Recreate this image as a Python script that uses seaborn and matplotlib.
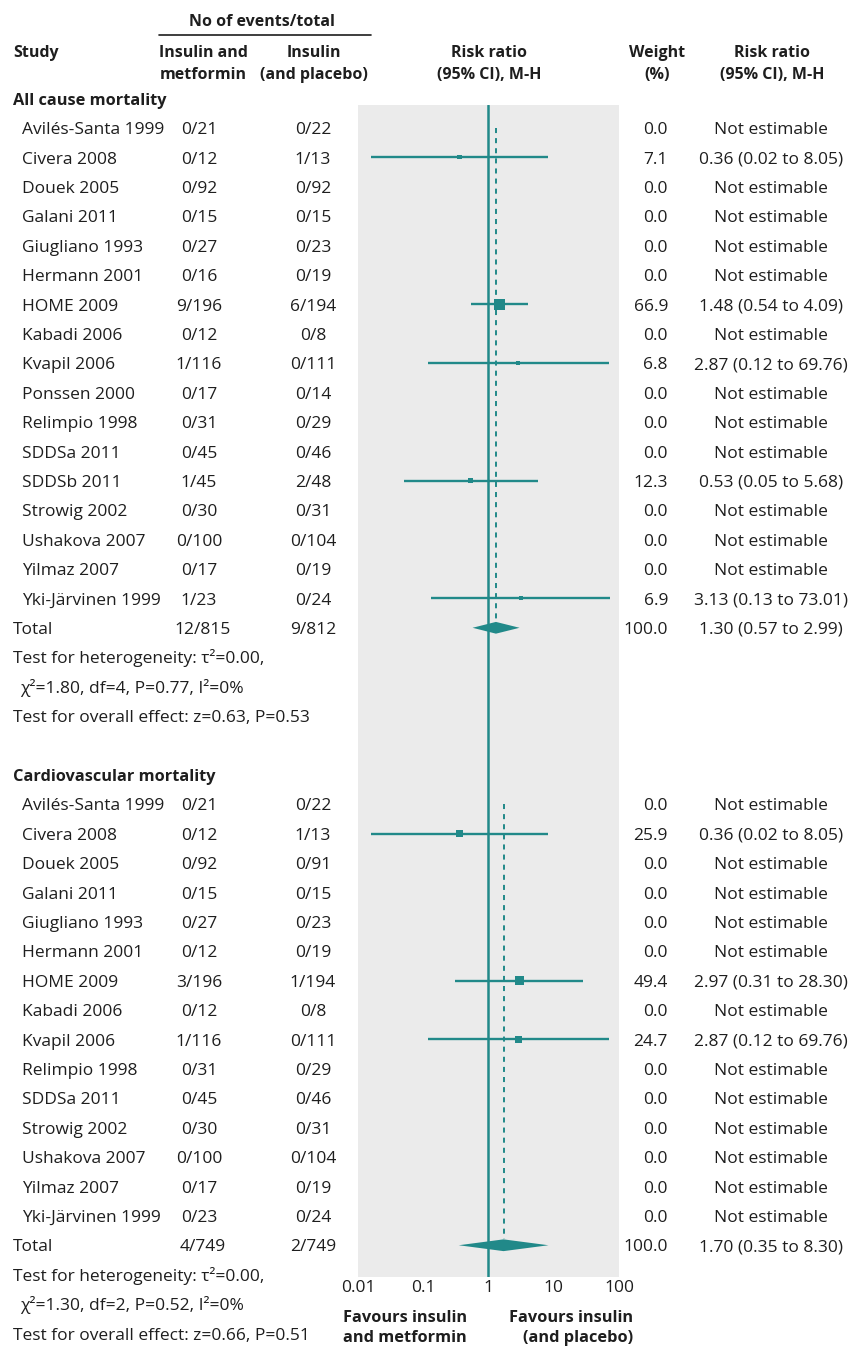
import numpy as np
import pandas as pd
import seaborn as sns
import matplotlib.pyplot as plt
from matplotlib.transforms import blended_transform_factory

# Mortalidad por cualquier causa
estudios_all = ['Avilés-Santa 1999', 'Civera 2008', 'Douek 2005', 'Galani 2011', 'Giugliano 1993',
                'Hermann 2001', 'HOME 2009', 'Kabadi 2006', 'Kvapil 2006', 'Ponssen 2000',
                'Relimpio 1998', 'SDDSa 2011', 'SDDSb 2011', 'Strowig 2002', 'Ushakova 2007',
                'Yilmaz 2007', 'Yki-Järvinen 1999']
met_all = ['0/21', '0/12', '0/92', '0/15', '0/27', '0/16', '9/196', '0/12', '1/116', '0/17',
           '0/31', '0/45', '1/45', '0/30', '0/100', '0/17', '1/23']
pla_all = ['0/22', '1/13', '0/92', '0/15', '0/23', '0/19', '6/194', '0/8', '0/111', '0/14',
           '0/29', '0/46', '2/48', '0/31', '0/104', '0/19', '0/24']
peso_all = [0.0, 7.1, 0.0, 0.0, 0.0, 0.0, 66.9, 0.0, 6.8, 0.0, 0.0, 0.0, 12.3, 0.0, 0.0, 0.0, 6.9]
rr_all = [np.nan, 0.36, np.nan, np.nan, np.nan, np.nan, 1.48, np.nan, 2.87, np.nan,
          np.nan, np.nan, 0.53, np.nan, np.nan, np.nan, 3.13]
inf_all = [np.nan, 0.016, np.nan, np.nan, np.nan, np.nan, 0.54, np.nan, 0.12, np.nan,
           np.nan, np.nan, 0.05, np.nan, np.nan, np.nan, 0.13]
sup_all = [np.nan, 8.05, np.nan, np.nan, np.nan, np.nan, 4.09, np.nan, 69.76, np.nan,
           np.nan, np.nan, 5.68, np.nan, np.nan, np.nan, 73.01]
total_all = ['12/815', '9/812']
pool_all = [1.30, 0.57, 2.99]
notas_all = ['Test for heterogeneity: τ²=0.00,',
             'χ²=1.80, df=4, P=0.77, I²=0%',
             'Test for overall effect: z=0.63, P=0.53']

# Mortalidad cardiovascular
estudios_cv = ['Avilés-Santa 1999', 'Civera 2008', 'Douek 2005', 'Galani 2011', 'Giugliano 1993',
               'Hermann 2001', 'HOME 2009', 'Kabadi 2006', 'Kvapil 2006', 'Relimpio 1998',
               'SDDSa 2011', 'Strowig 2002', 'Ushakova 2007', 'Yilmaz 2007', 'Yki-Järvinen 1999']
met_cv = ['0/21', '0/12', '0/92', '0/15', '0/27', '0/12', '3/196', '0/12', '1/116', '0/31',
          '0/45', '0/30', '0/100', '0/17', '0/23']
pla_cv = ['0/22', '1/13', '0/91', '0/15', '0/23', '0/19', '1/194', '0/8', '0/111', '0/29',
          '0/46', '0/31', '0/104', '0/19', '0/24']
peso_cv = [0.0, 25.9, 0.0, 0.0, 0.0, 0.0, 49.4, 0.0, 24.7, 0.0, 0.0, 0.0, 0.0, 0.0, 0.0]
rr_cv = [np.nan, 0.36, np.nan, np.nan, np.nan, np.nan, 2.97, np.nan, 2.87, np.nan,
         np.nan, np.nan, np.nan, np.nan, np.nan]
inf_cv = [np.nan, 0.016, np.nan, np.nan, np.nan, np.nan, 0.31, np.nan, 0.12, np.nan,
          np.nan, np.nan, np.nan, np.nan, np.nan]
sup_cv = [np.nan, 8.05, np.nan, np.nan, np.nan, np.nan, 28.30, np.nan, 69.76, np.nan,
          np.nan, np.nan, np.nan, np.nan, np.nan]
total_cv = ['4/749', '2/749']
pool_cv = [1.70, 0.35, 8.30]
notas_cv = ['Test for heterogeneity: τ²=0.00,',
            'χ²=1.30, df=2, P=0.52, I²=0%',
            'Test for overall effect: z=0.66, P=0.51']

ticks = [0.01, 0.1, 1, 10, 100]
tick_labels = ['0.01', '0.1', '1', '10', '100']

TEAL = '#218989'
TXT = '#1e1e1e'
FS = 12.5

sns.set_theme(style='white')
plt.rcParams['font.family'] = ['Open Sans', 'DejaVu Sans']

W, H = 854, 1349
fig = plt.figure(figsize=(W / 100, H / 100), dpi=100)
ax = fig.add_axes([358 / W, 1 - 1277 / H, (619 - 358) / W, (1277 - 105) / H])
ax.set_facecolor('#ebebeb')
ax.set_xscale('log')

tr = blended_transform_factory(fig.transFigure, ax.transData)


def armar(estudios, met, pla, peso, rr, inf, sup, fila0):
    df = pd.DataFrame({'Estudio': estudios, 'Met': met, 'Pla': pla, 'Peso': peso,
                       'RR': rr, 'Inf': inf, 'Sup': sup})
    df['Fila'] = np.arange(len(df)) + fila0
    return df


def texto(px, fila, s, ha='left', fs=FS, **kw):
    ax.text(px / W, fila + 0.21, s, transform=tr, ha=ha, va='baseline', fontsize=fs,
            color=TXT, clip_on=False, **kw)


def seccion(titulo, df, totales, pool, notas, fila_tit):
    texto(13, fila_tit, titulo, fontweight='bold', fs=11.8)
    for _, r in df.iterrows():
        texto(22, r['Fila'], r['Estudio'])
        texto(199, r['Fila'], r['Met'], ha='center')
        texto(313, r['Fila'], r['Pla'], ha='center')
        texto(668, r['Fila'], f"{r['Peso']:.1f}", ha='right')
        if r['Peso'] > 0:
            texto(771, r['Fila'], f"{r['RR']:.2f} ({r['Inf']:.2f} to {r['Sup']:.2f})", ha='center')
        else:
            texto(771, r['Fila'], 'Not estimable', ha='center')
    ft = df['Fila'].max() + 1
    texto(13, ft, 'Total')
    texto(203, ft, totales[0], ha='center')
    texto(313, ft, totales[1], ha='center')
    texto(668, ft, '100.0', ha='right')
    texto(771, ft, f'{pool[0]:.2f} ({pool[1]:.2f} to {pool[2]:.2f})', ha='center')
    texto(13, ft + 1, notas[0])
    texto(20, ft + 2, notas[1])
    texto(13, ft + 3, notas[2])

    # intervalos y cuadrados
    d = df[df['Peso'] > 0]
    ax.hlines(d['Fila'], d['Inf'], d['Sup'], color=TEAL, lw=1.7, zorder=3)
    sns.scatterplot(data=d, x='RR', y='Fila', size='Peso', sizes=(3, 85), size_norm=(0, 100),
                    marker='s', color=TEAL, linewidth=0, legend=False, ax=ax, zorder=4)
    # rombo del total
    h = 0.2
    ax.fill([pool[1], pool[0], pool[2], pool[0]], [ft, ft - h, ft, ft + h], color=TEAL, lw=0, zorder=4)
    ax.vlines(pool[0], df['Fila'].min(), ft - h, color=TEAL, lw=1.4,
              linestyles=(0, (2.6, 2.6)), zorder=3)


df_all = armar(estudios_all, met_all, pla_all, peso_all, rr_all, inf_all, sup_all, 1)
df_cv = armar(estudios_cv, met_cv, pla_cv, peso_cv, rr_cv, inf_cv, sup_cv, 24)

ax.axvline(1, color=TEAL, lw=1.8, zorder=2)
seccion('All cause mortality', df_all, total_all, pool_all, notas_all, 0)
seccion('Cardiovascular mortality', df_cv, total_cv, pool_cv, notas_cv, 23)

ax.set_xlim(0.01, 100)
ax.set_ylim(40.08, 0.22)
ax.set_xlabel('')
ax.set_ylabel('')
ax.set_yticks([])
ax.set_xticks(ticks)
ax.set_xticklabels(tick_labels)
ax.xaxis.set_minor_locator(plt.NullLocator())
ax.tick_params(axis='x', direction='in', color='white', length=4, width=1.2, pad=2,
               labelsize=FS, labelcolor=TXT)
for s in ax.spines.values():
    s.set_visible(False)

# Encabezados
def cab(px, py, s, ha='center'):
    fig.text(px / W, 1 - py / H, s, ha=ha, va='center', fontsize=11.5, fontweight='bold',
             color=TXT)

cab(262, 22, 'No of events/total')
fig.add_artist(plt.Line2D([159 / W, 371 / W], [1 - 35 / H, 1 - 35 / H], color=TXT, lw=1.2))
cab(13, 53, 'Study', ha='left')
cab(203, 53, 'Insulin and')
cab(203, 75, 'metformin')
cab(314, 53, 'Insulin')
cab(314, 75, '(and placebo)')
cab(489, 53, 'Risk ratio')
cab(489, 75, '(95% CI), M-H')
cab(657, 53, 'Weight')
cab(657, 75, '(%)')
cab(772, 53, 'Risk ratio')
cab(772, 75, '(95% CI), M-H')

# Leyenda inferior
for py, s1, s2 in [(1318, 'Favours insulin', 'Favours insulin'), (1338, 'and metformin', '(and placebo)')]:
    fig.text(343 / W, 1 - py / H, s1, ha='left', va='center', fontsize=11.8, fontweight='bold', color=TXT)
    fig.text(633 / W, 1 - py / H, s2, ha='right', va='center', fontsize=11.8, fontweight='bold', color=TXT)

fig.savefig('out.png', dpi=100)
